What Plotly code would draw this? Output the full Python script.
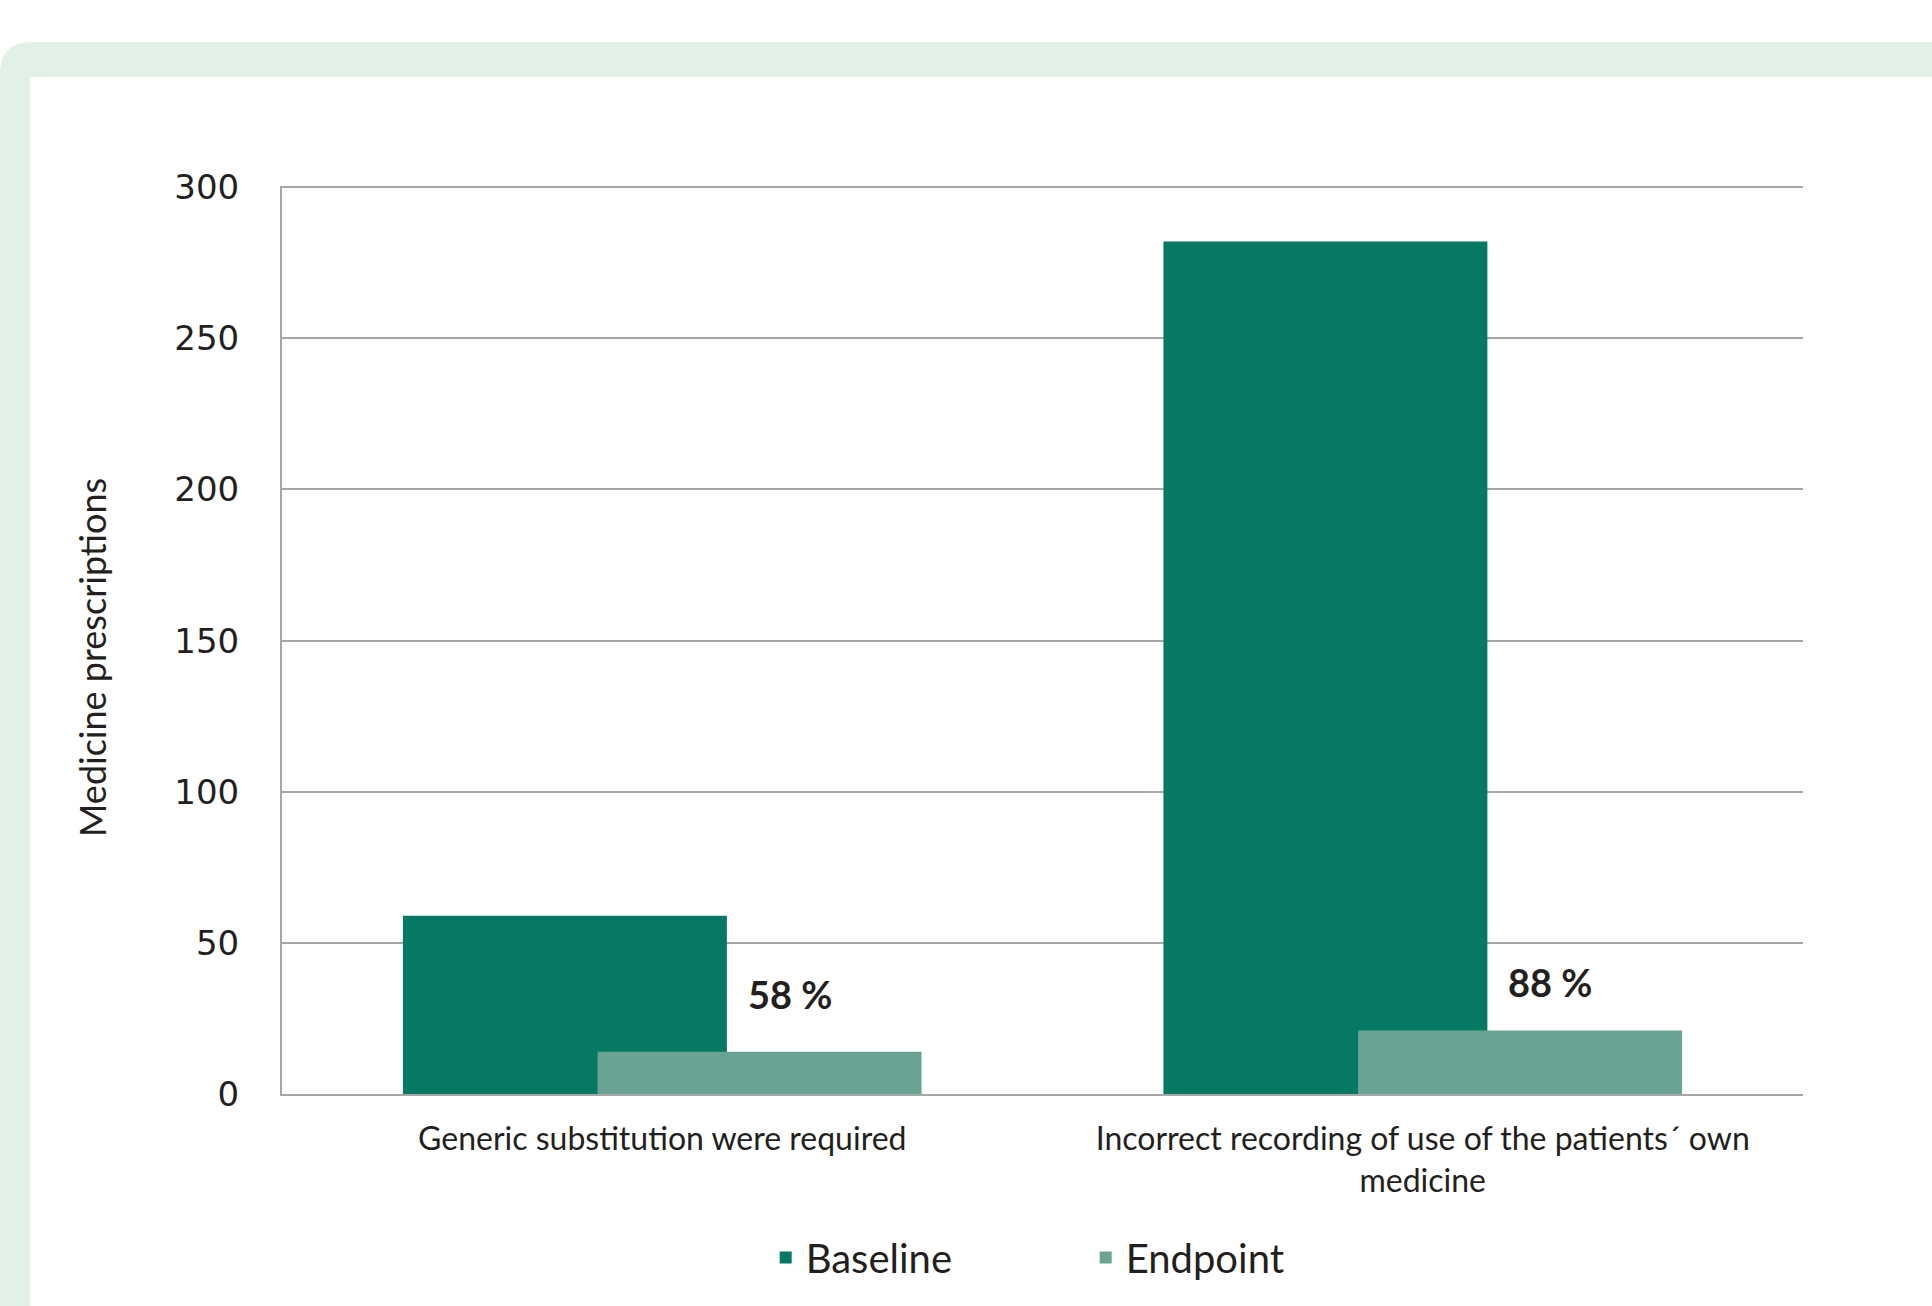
import plotly.graph_objects as go

categories = ["Generic substitution were required",
              "Incorrect recording of use of the patients\u00b4 own<br>medicine"]
baseline = [59, 282]
endpoint = [14, 21]
reduction_labels = ["58 %", "88 %"]
label_y = [33, 37]
y_ticks = [0, 50, 100, 150, 200, 250, 300]
y_title = "Medicine prescriptions"

W, H = 1932, 1306
L, R, T, B = 282, 129, 186, 212
PW, PH = W - L - R, H - T - B


def px(x):
    return (x - L) / PW


def py(y):
    return (H - B - y) / PH


fig = go.Figure()
fig.add_trace(go.Bar(x=[0, 1], y=baseline, name="Baseline",
                     marker=dict(color="#057963", line=dict(width=0)),
                     offset=-0.341, width=0.426))
fig.add_trace(go.Bar(x=[0, 1], y=endpoint, name="Endpoint",
                     marker=dict(color="#6aa394", line=dict(width=0)),
                     offset=-0.085, width=0.426))

for i, (t, yy) in enumerate(zip(reduction_labels, label_y)):
    fig.add_annotation(x=i + 0.11, y=yy, text="<b>" + t + "</b>", showarrow=False,
                       xanchor="left", yanchor="middle",
                       font=dict(family="Lato", size=38, color="#231f20"))

# y-axis title
fig.add_annotation(xref="paper", yref="paper", x=px(92), y=py(658), text=y_title,
                   textangle=-90, showarrow=False, xanchor="center", yanchor="middle",
                   font=dict(family="Lato", size=36, color="#231f20"))

# decorative frame
r = 32
x0, y0 = px(0), py(42)
xe, ye = px(W + 50), py(H + 50)
path = (f"M {x0},{ye} L {x0},{py(42 + r)} Q {x0},{y0} {px(r)},{y0} "
        f"L {xe},{y0} L {xe},{ye} Z")
shapes = [
    dict(type="path", xref="paper", yref="paper", path=path,
         fillcolor="#e1f1e7", line=dict(width=0), layer="below"),
    dict(type="rect", xref="paper", yref="paper", x0=px(30), y0=py(77),
         x1=xe, y1=ye, fillcolor="white", line=dict(width=0), layer="below"),
]

fig.update_layout(
    width=W, height=H,
    margin=dict(l=L, r=R, t=T, b=B),
    paper_bgcolor="white", plot_bgcolor="rgba(0,0,0,0)",
    barmode="overlay",
    showlegend=True,
    shapes=shapes,
    legend=dict(orientation="h", x=0.318, xanchor="left", y=-0.18, yanchor="middle",
                font=dict(family="Lato", size=40, color="#231f20"),
                entrywidth=275, bgcolor="rgba(0,0,0,0)"),
    xaxis=dict(range=[-0.5, 1.5], tickmode="array", tickvals=[0, 1], ticktext=categories,
               showgrid=False, zeroline=False, showline=True, linecolor="#a6a6a6",
               linewidth=2, ticks="",
               tickfont=dict(family="Lato", size=32, color="#231f20"),
               ticklabelstandoff=16),
    yaxis=dict(range=[0, 300.4], tickvals=y_ticks, showgrid=True, gridcolor="#a6a6a6",
               gridwidth=2, zeroline=False, showline=True, linecolor="#a6a6a6",
               linewidth=2, ticks="",
               tickfont=dict(family="DejaVu Sans", size=34, color="#231f20"),
               ticklabelstandoff=34),
)

fig.write_html("out.html")
